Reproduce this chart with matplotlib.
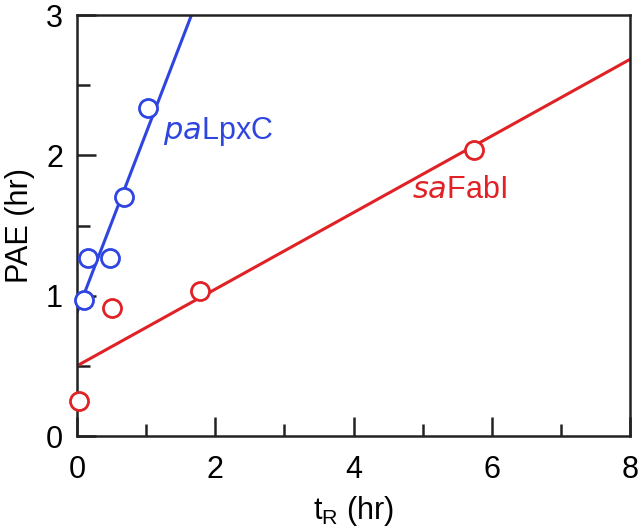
import numpy as np
import matplotlib.pyplot as plt
from matplotlib.ticker import MultipleLocator

plt.rcParams['font.family'] = ['Liberation Sans', 'DejaVu Sans']

# paLpxC data
pa_t = [0.10, 0.16, 0.48, 0.68, 1.03]
pa_pae = [0.97, 1.27, 1.27, 1.70, 2.34]
pa_slope, pa_icpt = 1.28, 0.88

# saFabI data
sa_t = [0.03, 0.50, 1.78, 5.74]
sa_pae = [0.25, 0.91, 1.03, 2.04]
sa_slope, sa_icpt = 0.273, 0.50

blue = '#2f45e0'
red = '#e02226'

fig = plt.figure(figsize=(6.42, 5.30), dpi=100)
ax = fig.add_axes([77 / 642, 1 - 436 / 530, (630 - 77) / 642, (436 - 15) / 530])

xx = np.array([0, 8])
ax.plot(xx, pa_icpt + pa_slope * xx, color=blue, lw=2.2, zorder=2)
ax.plot(xx, sa_icpt + sa_slope * xx, color=red, lw=2.2, zorder=2)
ax.plot(pa_t, pa_pae, 'o', ms=13, mfc='white', mec=blue, mew=2.0, zorder=3, clip_on=False)
ax.plot(sa_t, sa_pae, 'o', ms=13, mfc='white', mec=red, mew=2.0, zorder=3, clip_on=False)

ax.text(1.245, 2.17, r'$\it{pa}$LpxC', color=blue, fontsize=22, va='center')
ax.text(4.85, 1.75, r'$\it{sa}$FabI', color=red, fontsize=22, va='center')

ax.set_xlim(0, 8)
ax.set_ylim(0, 3)
ax.xaxis.set_major_locator(MultipleLocator(2))
ax.xaxis.set_minor_locator(MultipleLocator(1))
ax.yaxis.set_major_locator(MultipleLocator(1))
ax.yaxis.set_minor_locator(MultipleLocator(0.5))
ax.tick_params(which='both', direction='in', width=1.8, labelsize=22, color='#222222')
ax.tick_params(which='major', length=13.5, pad=10)
ax.tick_params(which='minor', length=9)
ax.tick_params(axis='x', which='major', pad=14)
for s in ax.spines.values():
    s.set_linewidth(1.8)
    s.set_color('#222222')

ax.set_xlabel(r't$_\mathregular{R}$ (hr)', fontsize=22, labelpad=6)
ax.set_ylabel('PAE (hr)', fontsize=22, labelpad=8)

fig.savefig('out.png', dpi=100)
